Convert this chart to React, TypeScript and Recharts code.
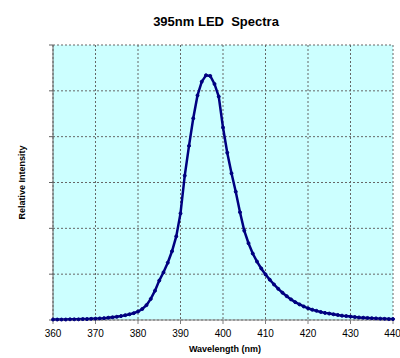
import { LineChart, Line, XAxis, YAxis, CartesianGrid } from 'recharts';

// Wavelength samples (nm) and relative intensity
const WAVELENGTHS = [
  360, 361, 362, 363, 364, 365, 366, 367, 368, 369,
  370, 371, 372, 373, 374, 375, 376, 377, 378, 379,
  380, 381, 382, 383, 384, 385, 386, 387, 388, 389,
  390, 391, 392, 393, 394, 395, 396, 397, 398, 399,
  400, 401, 402, 403, 404, 405, 406, 407, 408, 409,
  410, 411, 412, 413, 414, 415, 416, 417, 418, 419,
  420, 421, 422, 423, 424, 425, 426, 427, 428, 429,
  430, 431, 432, 433, 434, 435, 436, 437, 438, 439, 440,
];

const INTENSITY = [
  0.002, 0.002, 0.002, 0.002, 0.003, 0.003, 0.003, 0.004, 0.004, 0.005,
  0.006, 0.007, 0.008, 0.010, 0.012, 0.014, 0.017, 0.021, 0.025, 0.030,
  0.037, 0.048, 0.065, 0.092, 0.128, 0.172, 0.208, 0.250, 0.300, 0.365,
  0.465, 0.630, 0.760, 0.880, 0.980, 1.040, 1.068, 1.065, 1.030, 0.975,
  0.840, 0.730, 0.640, 0.560, 0.470, 0.390, 0.335, 0.290, 0.255, 0.225,
  0.199, 0.176, 0.155, 0.136, 0.119, 0.104, 0.090, 0.078, 0.068, 0.059,
  0.051, 0.045, 0.040, 0.035, 0.031, 0.028, 0.025, 0.022, 0.019, 0.017,
  0.015, 0.013, 0.011, 0.010, 0.009, 0.008, 0.007, 0.006, 0.005, 0.004, 0.004,
];

const X_TICKS = [360, 370, 380, 390, 400, 410, 420, 430, 440];
const Y_TICKS = [0, 0.2, 0.4, 0.6, 0.8, 1.0, 1.2];

const data = WAVELENGTHS.map((w, i) => ({ w, v: INTENSITY[i] }));

const FONT = 'Arial, "Liberation Sans", Helvetica, sans-serif';
const LINE_COLOR = '#000080';

// y axis has tick marks but no numbers
const EmptyTick = () => <g />;

export default function App() {
  return (
    <div style={{ position: 'relative', width: 400, height: 358, background: '#fff', fontFamily: FONT }}>
      <style>{`body{margin:0}`}</style>
      <div
        style={{
          position: 'absolute',
          top: 14,
          left: 0,
          width: 432,
          textAlign: 'center',
          fontSize: 13,
          fontWeight: 'bold',
          whiteSpace: 'pre',
          color: '#000',
        }}
      >
        {'395nm LED  Spectra'}
      </div>
      <LineChart
        width={400}
        height={358}
        data={data}
        margin={{ top: 45, right: 7, left: 0, bottom: 0 }}
      >
        <CartesianGrid fill="#CCFFFF" stroke="#666" strokeDasharray="2 2" />
        <XAxis
          dataKey="w"
          type="number"
          domain={[360, 440]}
          ticks={X_TICKS}
          height={38}
          tickSize={4}
          tickMargin={6}
          axisLine={{ stroke: '#808080' }}
          tickLine={{ stroke: '#808080' }}
          tick={{ fill: '#000', fontSize: 10, fontFamily: FONT }}
          label={{
            value: 'Wavelength (nm)',
            position: 'insideBottom',
            offset: 6,
            fill: '#000',
            fontSize: 9,
            fontWeight: 'bold',
            fontFamily: FONT,
            dx: 2,
          }}
        />
        <XAxis
          xAxisId="top"
          orientation="top"
          type="number"
          domain={[360, 440]}
          height={0}
          tick={false}
          tickLine={false}
          axisLine={{ stroke: '#B0B0B0' }}
        />
        <YAxis
          type="number"
          domain={[0, 1.2]}
          ticks={Y_TICKS}
          width={53}
          tick={EmptyTick}
          tickSize={4}
          axisLine={{ stroke: '#606060' }}
          tickLine={{ stroke: '#606060' }}
          label={{
            value: 'Relative Intensity',
            angle: -90,
            position: 'insideLeft',
            offset: 22,
            fill: '#000',
            fontSize: 9,
            fontWeight: 'bold',
            fontFamily: FONT,
            style: { textAnchor: 'middle' },
          }}
        />
        <YAxis
          yAxisId="right"
          orientation="right"
          type="number"
          domain={[0, 1.2]}
          width={0}
          tick={false}
          tickLine={false}
          axisLine={{ stroke: '#B0B0B0' }}
        />
        <Line
          type="linear"
          dataKey="v"
          stroke={LINE_COLOR}
          strokeWidth={2.5}
          dot={{ r: 1.5, fill: LINE_COLOR, stroke: LINE_COLOR, strokeWidth: 1 }}
          isAnimationActive={false}
        />
      </LineChart>
    </div>
  );
}
